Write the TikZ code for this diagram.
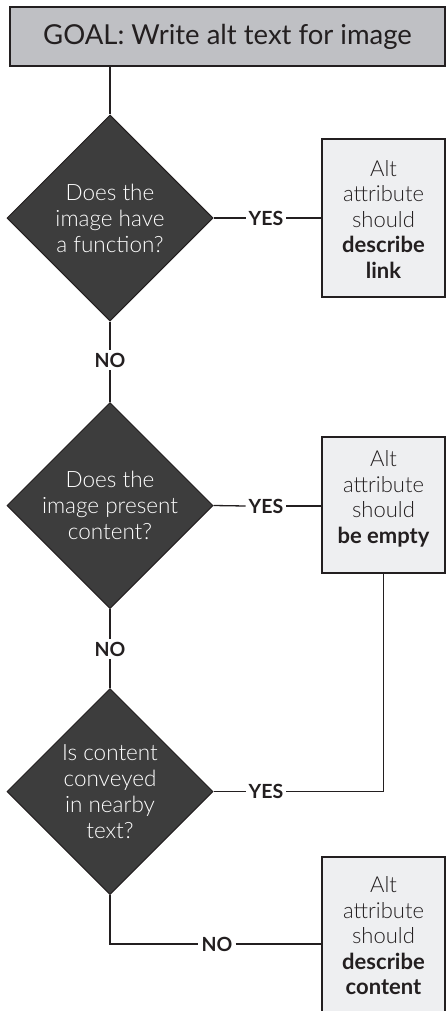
\documentclass[tikz,border=0pt]{standalone}
\usepackage{fontspec}
\setmainfont{Lato}
\newfontfamily\lightfont{Lato Light}
\usetikzlibrary{shapes.geometric}
\definecolor{ink}{HTML}{231F20}
\definecolor{diafill}{HTML}{3D3D3D}
\definecolor{goalfill}{HTML}{BFC0C4}
\definecolor{boxfill}{HTML}{EEEFF1}
\tikzset{
  conn/.style={draw=ink, line width=1.3pt},
  goalbox/.style={draw=ink, line width=1.3pt, fill=goalfill, rectangle, inner sep=0pt,
    minimum width=435pt, minimum height=59pt, font=\fontsize{27.5}{30}\selectfont, text=ink},
  dia/.style={draw=ink, line width=1pt, fill=diafill, diamond, aspect=1, inner sep=0pt,
    minimum width=206pt, minimum height=206pt},
  diatext/.style={align=center, text=white, inner sep=0pt, font=\lightfont\fontsize{22.5}{26}\selectfont},
  ansbox/.style={draw=ink, line width=1.3pt, fill=boxfill, rectangle, inner sep=0pt, minimum width=123pt},
  anstext/.style={align=center, text=ink, inner sep=0pt, font=\lightfont\fontsize{22}{25.5}\selectfont},
  lab/.style={text=ink, inner sep=3pt, font=\bfseries\fontsize{19.5}{21}\selectfont}
}
\newcommand{\hv}[1]{{\fontspec{Lato}\bfseries #1}}
\begin{document}
\begin{tikzpicture}[x=1pt,y=-1pt]
\useasboundingbox (0,0) rectangle (446,1011);
\clip (0,0) rectangle (446,1011);
\node[goalbox] (goal) at (227.5,36.5) {GOAL: Write alt text for image};

\node[dia] (d1) at (110,218) {};
\node[diatext] (d1t) at (110,218) {Does the\\image have\\a function?};
\node[dia] (d2) at (110,505.5) {};
\node[diatext] (d2t) at (110,505.5) {Does the\\image present\\content?};
\node[dia] (d3) at (110,791.5) {};
\node[diatext] (d3t) at (110,791.5) {Is content\\conveyed\\in nearby\\text?};

\node[ansbox, minimum height=158pt] (b1) at (383.5,218) {};
\node[anstext] (b1t) at (383.5,219) {Alt\\attribute\\should\\\hv{describe}\\\hv{link}};
\node[ansbox, minimum height=136pt] (b2) at (383.5,505) {};
\node[anstext] (b2t) at (383.5,499) {Alt\\attribute\\should\\\hv{be empty}};
\node[ansbox, minimum height=174pt] (b3) at (383.5,944) {};
\node[anstext] (b3t) at (383.5,936) {Alt\\attribute\\should\\\hv{describe}\\\hv{content}};

\node[lab] (yes1) at (266,218) {YES};
\node[lab] (yes2) at (266,506) {YES};
\node[lab] (yes3) at (266,791.5) {YES};
\node[lab] (no1) at (110,360) {NO};
\node[lab] (no2) at (110,649) {NO};
\node[lab] (no3) at (217,944) {NO};
\coordinate (c3) at (b2.south |- yes3);

\draw[conn] (d1.north |- goal.south) -- (d1.north);
\draw[conn] (d1.east) -- (yes1.west);
\draw[conn] (yes1.east) -- (b1.west);
\draw[conn] (d1.south) -- (no1.north);
\draw[conn] (no1.south) -- (d2.north);
\draw[conn] (d2.east) -- (yes2.west);
\draw[conn] (yes2.east) -- (b2.west |- yes2.east);
\draw[conn] (d2.south) -- (no2.north);
\draw[conn] (no2.south) -- (d3.north);
\draw[conn] (d3.east) -- (yes3.west);
\draw[conn] (yes3.east) -- (c3) -- (b2.south);
\draw[conn] (d3.south) -- (d3.south |- no3) -- (no3.west);
\draw[conn] (no3.east) -- (b3.west);
\end{tikzpicture}
\end{document}
